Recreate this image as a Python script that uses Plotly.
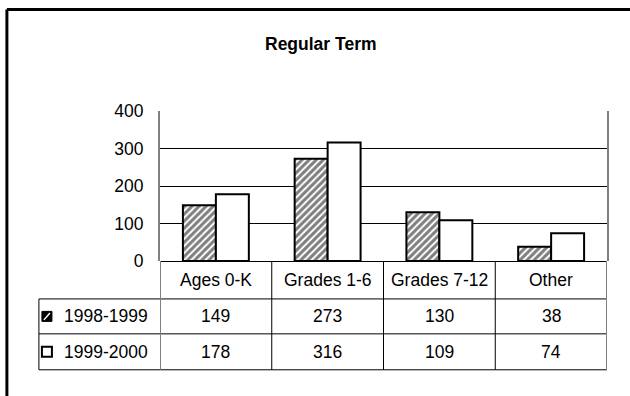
import plotly.graph_objects as go

# ---- data ----
categories = ["Ages 0-K", "Grades 1-6", "Grades 7-12", "Other"]
series_names = ["1998-1999", "1999-2000"]
values_1998 = [149, 273, 130, 38]
values_1999 = [178, 316, 109, 74]
y_ticks = [0, 100, 200, 300, 400]
title_text = "Regular Term"

# ---- layout geometry (pixels) ----
W, H = 630, 396
L, R, T, B = 160, 606.7, 110.7, 261.0
FONT = "Liberation Sans, Arial, sans-serif"
FS = 17.5

def px(x):
    return (x - L) / (R - L)

def py(y):
    return (B - y) / (B - T)

fig = go.Figure()
fig.add_trace(go.Bar(
    x=categories, y=values_1998, name=series_names[0],
    marker=dict(color="white",
                pattern=dict(shape="/", fgcolor="black", bgcolor="white", size=5, solidity=0.6),
                line=dict(color="black", width=2)),
))
fig.add_trace(go.Bar(
    x=categories, y=values_1999, name=series_names[1],
    marker=dict(color="white", line=dict(color="black", width=2)),
))

shapes = []
annotations = []

# outer frame (left and top edges visible)
shapes.append(dict(type="line", xref="paper", yref="paper", x0=px(7), x1=px(W + 5), y0=py(9), y1=py(9),
                   line=dict(color="black", width=3)))
shapes.append(dict(type="line", xref="paper", yref="paper", x0=px(7), x1=px(7), y0=py(9), y1=py(H + 5),
                   line=dict(color="black", width=3)))

# table horizontal lines
row_lines = [299, 334, 370]
for yy in row_lines:
    shapes.append(dict(type="line", xref="paper", yref="paper", x0=px(39), x1=1, y0=py(yy), y1=py(yy),
                       line=dict(color="black", width=1)))
shapes.append(dict(type="line", xref="paper", yref="paper", x0=px(39), x1=px(39), y0=py(299), y1=py(370),
                   line=dict(color="black", width=1)))
# vertical separators between categories
n = len(categories)
for k in range(n + 1):
    outer = k in (0, n)
    shapes.append(dict(type="line", xref="x", yref="paper", x0=k - 0.5, x1=k - 0.5, y0=0, y1=py(370),
                       line=dict(color="#808080" if outer else "black", width=2 if outer else 1)))

# category labels row
for c in categories:
    annotations.append(dict(xref="x", yref="paper", x=c, y=py(280), text=c, showarrow=False,
                            xanchor="center", yanchor="middle", font=dict(size=FS, color="black", family=FONT)))

# value rows
row_centers = [316.5, 352]
for vals, yc in zip([values_1998, values_1999], row_centers):
    for c, v in zip(categories, vals):
        annotations.append(dict(xref="x", yref="paper", x=c, y=py(yc), text=str(v), showarrow=False,
                                xanchor="center", yanchor="middle", font=dict(size=FS, color="black", family=FONT)))

# legend labels in table
for name, yc in zip(series_names, row_centers):
    annotations.append(dict(xref="paper", yref="paper", x=px(62), y=py(yc), text=name, showarrow=False,
                            xanchor="left", yanchor="middle", font=dict(size=FS, color="black", family=FONT)))

# legend keys
k1 = row_centers[0]
shapes.append(dict(type="rect", xref="paper", yref="paper", x0=px(42), x1=px(52), y0=py(k1 - 5), y1=py(k1 + 5),
                   fillcolor="black", line=dict(color="black", width=1)))
shapes.append(dict(type="line", xref="paper", yref="paper", x0=px(44), x1=px(50), y0=py(k1 + 3.5), y1=py(k1 - 3.5),
                   line=dict(color="white", width=1.5)))
k2 = row_centers[1]
shapes.append(dict(type="rect", xref="paper", yref="paper", x0=px(42), x1=px(52), y0=py(k2 - 5), y1=py(k2 + 5),
                   fillcolor="white", line=dict(color="black", width=2)))

# title
annotations.append(dict(xref="paper", yref="paper", x=px(321), y=py(43.5), text="<b>" + title_text + "</b>",
                        showarrow=False, xanchor="center", yanchor="middle",
                        font=dict(size=FS, color="black", family=FONT)))

fig.update_layout(
    width=W, height=H,
    margin=dict(l=L, r=W - R, t=T, b=H - B, pad=0),
    paper_bgcolor="white", plot_bgcolor="white",
    showlegend=False,
    barmode="group", bargap=0.41, bargroupgap=0,
    font=dict(family=FONT, size=FS, color="black"),
    shapes=shapes, annotations=annotations,
    xaxis=dict(showticklabels=False, showgrid=False, showline=False, zeroline=False, ticks="",
               range=[-0.5, n - 0.5]),
    yaxis=dict(range=[0, 400], tickvals=y_ticks, showgrid=True, gridcolor="black", gridwidth=1,
               zeroline=True, zerolinecolor="black", zerolinewidth=1,
               showline=True, linecolor="#808080", linewidth=2, mirror=True,
               ticks="", ticklabelstandoff=11, tickfont=dict(size=FS, family=FONT, color="black")),
)

fig.write_html("out.html", config={"displayModeBar": False},
               post_script="document.body.style.margin='0px';")
